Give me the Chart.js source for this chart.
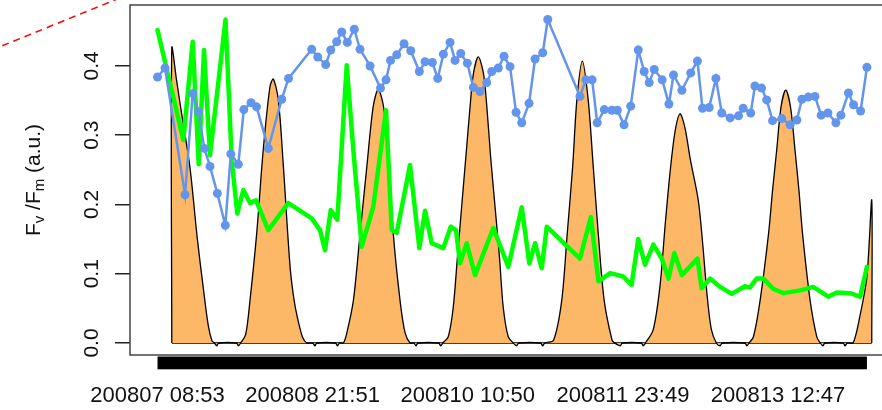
<!DOCTYPE html>
<html>
<head>
<meta charset="utf-8">
<script src="https://cdn.jsdelivr.net/npm/chart.js@4.4.1/dist/chart.umd.min.js"></script>
<style>
  html, body { margin: 0; padding: 0; background: #fff; overflow: hidden; }
  #wrap { width: 900px; height: 410px; }
</style>
</head>
<body>
<div id="wrap"><canvas id="fvChart" width="900" height="410"></canvas></div>
<script>
// x values are hours since 200807 08:53
const xTickHours = [0, 36.97, 73.95, 110.93, 147.9];
const xTickLabels = ['200807 08:53', '200808 21:51', '200810 10:50', '200811 23:49', '200813 12:47'];
const yTickValues = [0, 0.1, 0.2, 0.3, 0.4];

// Fv/Fm (blue points)
const fvHours = [0, 1.79, 6.56, 8.39, 9.77, 11.16, 12.51, 14.26, 16.16, 17.47,
  19.26, 20.57, 22.29, 23.6, 26.41, 29.61, 31.23, 36.76, 38.19, 40.1,
  41.29, 42.72, 43.91, 45.24, 46.91, 48.27, 50.66, 53.16, 54.47, 55.54,
  57.02, 58.76, 60.36, 62.41, 63.77, 65.51, 66.79, 68.13, 69.73, 70.92,
  72.28, 73.85, 75.28, 76.88, 78.47, 79.67, 81.24, 82.6, 84.03, 85.46,
  86.82, 88.56, 89.99, 91.82, 93.02, 100.7, 102.1, 103.6, 104.8, 106.5,
  108.3, 109.6, 111.2, 112.8, 114.6, 116.0, 117.2, 118.4, 120.3, 121.9,
  123.0, 125.0, 127.1, 128.7, 129.9, 131.5, 133.1, 134.5, 136.5, 138.5,
  139.6, 141.4, 142.4, 144.0, 145.2, 146.6, 148.8, 150.8, 152.4, 153.6,
  155.1, 156.7, 158.2, 159.8, 161.7, 162.9, 164.7, 165.9, 167.6, 169.1];
const fvValues = [0.384, 0.397, 0.214, 0.360, 0.334, 0.281, 0.255, 0.216, 0.170, 0.273,
  0.258, 0.337, 0.347, 0.341, 0.281, 0.352, 0.382, 0.424, 0.413, 0.402,
  0.423, 0.435, 0.449, 0.434, 0.453, 0.424, 0.400, 0.368, 0.380, 0.408,
  0.416, 0.432, 0.422, 0.392, 0.406, 0.405, 0.382, 0.417, 0.434, 0.408,
  0.418, 0.404, 0.369, 0.363, 0.376, 0.392, 0.397, 0.414, 0.399, 0.333,
  0.318, 0.346, 0.410, 0.419, 0.467, 0.356, 0.380, 0.380, 0.318, 0.337,
  0.336, 0.336, 0.315, 0.342, 0.423, 0.392, 0.376, 0.395, 0.380, 0.345,
  0.387, 0.365, 0.390, 0.407, 0.339, 0.340, 0.382, 0.332, 0.325, 0.328,
  0.339, 0.332, 0.371, 0.368, 0.351, 0.321, 0.324, 0.315, 0.322, 0.352,
  0.355, 0.356, 0.329, 0.332, 0.318, 0.329, 0.361, 0.344, 0.335, 0.398];

// green series
const greenHours = [0, 6.15, 8.39, 9.82, 11.08, 12.51, 16.21, 17.69, 19.02, 20.45,
  22.05, 23.48, 26.41, 31.18, 36.76, 38.74, 39.93, 41.29, 42.86, 45.1,
  46.67, 48.68, 51.44, 54.47, 55.83, 57.02, 60.19, 62.41, 63.77, 65.36,
  68.13, 69.89, 71.16, 72.11, 73.71, 75.69, 80.05, 83.62, 86.82, 88.63,
  89.99, 91.59, 92.78, 100.7, 103.3, 105.1, 107.9, 111.0, 113.0, 114.6,
  116.2, 118.2, 120.2, 121.8, 123.2, 125.0, 128.7, 129.7, 131.7, 134.1,
  136.9, 140.0, 141.2, 142.8, 144.4, 146.8, 149.2, 153.2, 156.3, 159.9,
  161.9, 165.1, 167.5, 169.1];
const greenValues = [0.452, 0.293, 0.435, 0.258, 0.423, 0.271, 0.467, 0.264, 0.187, 0.221,
  0.202, 0.206, 0.163, 0.202, 0.180, 0.163, 0.134, 0.192, 0.178, 0.401,
  0.279, 0.139, 0.197, 0.336, 0.163, 0.159, 0.257, 0.137, 0.191, 0.144,
  0.137, 0.168, 0.163, 0.115, 0.144, 0.098, 0.166, 0.110, 0.196, 0.115,
  0.144, 0.108, 0.168, 0.122, 0.182, 0.089, 0.101, 0.096, 0.084, 0.150,
  0.113, 0.142, 0.122, 0.093, 0.130, 0.098, 0.122, 0.079, 0.093, 0.081,
  0.071, 0.082, 0.080, 0.093, 0.093, 0.078, 0.072, 0.076, 0.081, 0.067,
  0.073, 0.072, 0.067, 0.110];

// light curve (orange polygon), scaled to the Fv/Fm axis
const lightHours = [3.4, 3.4, 4.5, 5.7, 7.7, 9.5, 10.9, 12.1, 13.0, 13.6, 14.1, 14.6,
  18.8, 19.3, 19.8, 21.0, 22.05, 23.65, 25.2, 26.8, 27.6, 28.8, 30.0, 31.6, 32.6, 33.6, 34.6, 35.6,
  37.0, 37.5, 38.0, 42.4, 42.9, 43.4, 44.3, 45.1, 46.7, 48.3, 49.9, 51.4, 52.6, 53.8, 54.8, 56.2, 57.8, 59.0, 60.2,
  61.1, 61.6, 62.1, 67.0, 67.5, 68.0, 69.3, 70.5, 71.5, 72.5, 73.5, 74.5, 75.3, 76.47, 77.7, 78.5, 79.4, 80.45, 81.5, 82.4, 83.6, 84.8,
  85.6, 86.1, 91.3, 91.8, 92.3, 94.4, 96.36, 97.66, 98.96, 99.96, 101.26, 102.66, 103.86, 105.06, 106.46, 108.36, 109.0,
  110.3, 110.8, 115.3, 115.8, 116.3, 118.15, 119.75, 121.0, 122.15, 123.35, 124.55, 125.75, 127.0, 128.9, 130.0, 130.95, 132.0, 133.2,
  134.1, 134.6, 140.0, 140.5, 141.0, 142.05, 143.65, 145.65, 146.6, 147.6, 148.6, 149.75, 150.9, 151.95, 152.9, 153.75, 155.55, 157.15, 158.0,
  158.6, 159.1, 163.4, 163.9, 164.4, 165.8, 167.4, 169.1, 170.25, 170.25];
const lightValues = [0, 0.426, 0.381, 0.333, 0.255, 0.150, 0.080, 0.025, 0.003, 0, -0.004, 0,
  0, -0.004, 0, 0.012, 0.062, 0.159, 0.279, 0.370, 0.381, 0.351, 0.255, 0.110, 0.060, 0.030, 0.008, 0,
  0, -0.004, 0, 0, -0.004, 0, 0, 0.014, 0.062, 0.159, 0.255, 0.341, 0.366, 0.344, 0.290, 0.158, 0.062, 0.015, 0,
  0, -0.004, 0, 0, -0.004, 0, 0.009, 0.052, 0.125, 0.197, 0.269, 0.341, 0.389, 0.413, 0.389, 0.341, 0.269, 0.197, 0.125, 0.052, 0.009, 0,
  -0.004, 0, 0, -0.004, 0, 0.004, 0.062, 0.158, 0.255, 0.351, 0.407, 0.351, 0.255, 0.158, 0.062, 0.004, 0,
  -0.004, 0, 0, -0.004, 0, 0.019, 0.081, 0.170, 0.245, 0.305, 0.331, 0.310, 0.265, 0.206, 0.140, 0.072, 0.020, 0,
  -0.004, 0, 0, -0.004, 0, 0.009, 0.062, 0.158, 0.220, 0.279, 0.340, 0.365, 0.340, 0.279, 0.220, 0.158, 0.062, 0.009, 0,
  -0.004, 0, 0, -0.004, 0, 0, 0.038, 0.096, 0.206, 0];

// dashed red line coming in from the neighbouring panel
const redHours = [-42.3, -4.2];
const redValues = [0.416, 0.510];

const BLUE = '#6495ed';
const FONT = '"Liberation Sans", Arial, sans-serif';
const toXY = (xs, ys) => xs.map((x, i) => ({ x: x, y: ys[i] }));

// box, dense tick strip, rotated y labels and the Fv/Fm title
const framePlugin = {
    id: 'frame',
    afterDraw(chart) {
        const { ctx, chartArea: a, scales: { x, y } } = chart;
        ctx.save();
        ctx.strokeStyle = '#444';
        ctx.lineWidth = 1.5;
        ctx.strokeRect(a.left, a.top, a.right - a.left, a.bottom - a.top);

        const x0 = x.getPixelForValue(fvHours[0]);
        const x1 = x.getPixelForValue(fvHours[fvHours.length - 1]);
        ctx.fillStyle = '#000';
        ctx.fillRect(x0, a.bottom + 1.5, x1 - x0, 12.8);

        ctx.fillStyle = '#111';
        ctx.font = '21px ' + FONT;
        ctx.textAlign = 'center';
        ctx.textBaseline = 'alphabetic';
        yTickValues.forEach(v => {
            ctx.save();
            ctx.translate(98, y.getPixelForValue(v));
            ctx.rotate(-Math.PI / 2);
            ctx.fillText(v.toFixed(1), 0, 0);
            ctx.restore();
        });

        // F_v /F_m (a.u.)
        const parts = [['F', 21, 0], ['v', 15, 4], [' /F', 21, 0], ['m', 15, 4], [' (a.u.)', 21, 0]];
        let total = 0;
        parts.forEach(p => { ctx.font = p[1] + 'px ' + FONT; total += ctx.measureText(p[0]).width; });
        ctx.save();
        ctx.translate(40, (a.top + a.bottom) / 2);
        ctx.rotate(-Math.PI / 2);
        ctx.textAlign = 'left';
        let cx = -total / 2;
        parts.forEach(p => {
            ctx.font = p[1] + 'px ' + FONT;
            ctx.fillText(p[0], cx, p[2]);
            cx += ctx.measureText(p[0]).width;
        });
        ctx.restore();
        ctx.restore();
    }
};

new Chart(document.getElementById('fvChart'), {
    type: 'line',
    data: {
        datasets: [
            { label: 'Fv/Fm', data: toXY(fvHours, fvValues), borderColor: BLUE, backgroundColor: BLUE,
              borderWidth: 2.5, pointRadius: 4.5, pointBorderWidth: 0, pointBackgroundColor: BLUE, tension: 0 },
            { label: 'green', data: toXY(greenHours, greenValues), borderColor: '#00ff00', borderWidth: 4.5,
              pointRadius: 0, borderJoinStyle: 'round', borderCapStyle: 'round', tension: 0 },
            { label: 'light', data: toXY(lightHours, lightValues), borderColor: '#000', borderWidth: 1.3,
              backgroundColor: '#fcb866', fill: 'origin', pointRadius: 0, tension: 0.3 },
            { label: 'base', data: [{ x: lightHours[0], y: 0 }, { x: lightHours[lightHours.length - 1], y: 0 }],
              borderColor: '#000', borderWidth: 1.3, pointRadius: 0 },
            { label: 'red', data: toXY(redHours, redValues), borderColor: '#ff0000', borderDash: [7, 5],
              borderWidth: 1.5, pointRadius: 0, clip: false }
        ]
    },
    options: {
        responsive: false,
        animation: false,
        events: [],
        layout: { padding: { top: 5, right: 10, left: 0, bottom: 0 } },
        plugins: { legend: { display: false }, tooltip: { enabled: false } },
        scales: {
            x: {
                type: 'linear', min: -6.56, max: 174.6,
                afterBuildTicks: s => { s.ticks = xTickHours.map(v => ({ value: v })); },
                afterFit: s => { s.height = 55; },
                grid: { display: false },
                border: { display: false },
                ticks: { autoSkip: false, maxRotation: 0, padding: 20, color: '#111',
                         font: { family: FONT, size: 22 }, callback: (v, i) => xTickLabels[i] }
            },
            y: {
                type: 'linear', min: -0.0173, max: 0.488,
                afterBuildTicks: s => { s.ticks = yTickValues.map(v => ({ value: v })); },
                afterFit: s => { s.width = 130; },
                grid: { drawOnChartArea: false, tickLength: 15, tickColor: '#222', lineWidth: 1.5 },
                border: { display: false },
                ticks: { display: false }
            }
        }
    },
    plugins: [framePlugin]
});
</script>
</body>
</html>
